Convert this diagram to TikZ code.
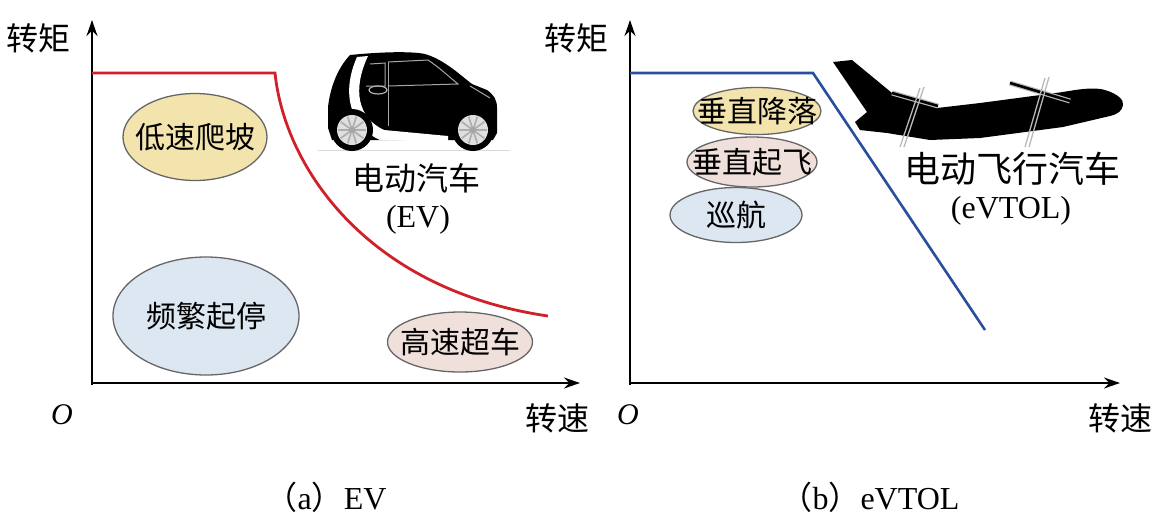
\documentclass[tikz,border=0pt]{standalone}
\usepackage{fontspec}
\setmainfont{Liberation Serif}
\newfontfamily\cjk{Noto Sans CJK SC}
\usetikzlibrary{arrows.meta,shapes.geometric}
\definecolor{evred}{HTML}{D0202A}
\definecolor{evblue}{HTML}{2B4DA0}
\definecolor{fillyel}{HTML}{F3E4AE}
\definecolor{fillpink}{HTML}{F0E0DC}
\definecolor{fillblue}{HTML}{DCE7F1}
\tikzset{
  axis/.style={line width=1.9pt,-{Stealth[length=16pt,width=11pt]}},
  oval/.style={ellipse,draw=black!60,line width=1.3pt,inner xsep=-18pt,inner ysep=0pt,font=\cjk\fontsize{30}{32}\selectfont},
  cjklab/.style={font=\cjk\fontsize{#1}{#1}\selectfont,inner sep=0pt},
  latlab/.style={font=\fontsize{#1}{#1}\selectfont,inner sep=0pt},
  prop/.style={draw=gray!55,line width=1.3pt},
  wingbar/.style={draw=gray!55,line width=5pt},
  wingcore/.style={draw=black,line width=2.6pt},
}
\begin{document}
\begin{tikzpicture}[x=1pt,y=-1pt]
\useasboundingbox (0,0) rectangle (1170,523);
% ---------------- panel (a) ----------------
\coordinate (oa) at (92,383);
\coordinate (ya) at (92,20);
\coordinate (xa) at (580,383);
\draw[axis] (92,385) -- (ya);
\draw[axis] (oa) -- (xa);
\node[cjklab=32] (tqa) at (38,38) {转矩};
\node[cjklab=32] (spa) at (557,418) {转速};
\node[font=\itshape\fontsize{30}{30}\selectfont,inner sep=0pt] (Oa) at (62,415) {O};
\coordinate (ra0) at (92,73);
\coordinate (ra1) at (275,73);
\coordinate (ra2) at (548,316);
\draw[evred,line width=2.8pt] (ra0) -- (ra1) .. controls (285,170) and (370,290) .. (ra2);
\node[oval,fill=fillyel,minimum width=144pt,minimum height=87pt] (e1) at (195,137) {低速爬坡};
\node[oval,fill=fillblue,minimum width=186pt,minimum height=118pt] (e2) at (206,316) {频繁起停};
\node[oval,fill=fillpink,minimum width=145pt,minimum height=60pt] (e3) at (460,342) {高速超车};
\node[cjklab=32] (eva) at (416,178) {电动汽车};
\node[latlab=32] (evb) at (418,220) {(EV)};
\node[latlab=32] (capa) at (326,497) {{\cjk （}a{\cjk ）}EV};
% car
\draw[gray!30,line width=1pt] (318,150) -- (510,150);
\fill[black] (350,55) .. controls (380,52) and (410,51) .. (425,54)
  .. controls (445,60) and (460,75) .. (472,84) -- (487,90)
  .. controls (494,95) and (497,100) .. (497,108) -- (497,133) -- (493,140)
  -- (332,140) -- (328,128) -- (328,107) .. controls (330,90) and (336,70) .. cycle;
\fill[white] (357,57) -- (368,56) .. controls (352,90) and (358,118) .. (384,130)
  -- (448,136) -- (448,142) -- (380,140) .. controls (352,128) and (340,95) .. cycle;
\draw[gray!70,line width=1pt] (388,62) -- (388,126);
\draw[gray!70,line width=1pt] (388,62) -- (428,60) .. controls (440,68) and (448,76) .. (458,84) -- (388,86);
\draw[gray!70,line width=1pt] (370,64) -- (385,63) -- (385,86) -- (366,86);
\draw[gray!60,line width=1.2pt] (378,90) ellipse (9pt and 4pt);
\draw[gray!70,line width=1pt] (470,86) -- (490,98);
\foreach \cx in {352,473}{
  \fill[black] (\cx,130) circle (21pt);
  \fill[gray!25] (\cx,130) circle (15pt);
  \foreach \a in {0,36,...,324}{\draw[gray!65,line width=1.6pt] (\cx,130) -- ++(\a:14pt);}
  \fill[gray!70] (\cx,130) circle (3pt);
}
% ---------------- panel (b) ----------------
\coordinate (ob) at (630,383);
\coordinate (yb) at (630,20);
\coordinate (xb) at (1120,383);
\draw[axis] (630,385) -- (yb);
\draw[axis] (ob) -- (xb);
\node[cjklab=32] (tqb) at (576,38) {转矩};
\node[cjklab=32] (spb) at (1120,418) {转速};
\node[font=\itshape\fontsize{30}{30}\selectfont,inner sep=0pt] (Ob) at (628,415) {O};
\coordinate (rb0) at (630,73);
\coordinate (rb1) at (813,73);
\coordinate (rb2) at (985,330);
\draw[evblue,line width=2.6pt] (rb0) -- (rb1) -- (rb2);
\node[oval,fill=fillyel,minimum width=128pt,minimum height=47pt] (f1) at (757,111) {垂直降落};
\node[oval,fill=fillpink,minimum width=130pt,minimum height=50pt] (f2) at (752,162) {垂直起飞};
\node[oval,fill=fillblue,minimum width=132pt,minimum height=55pt] (f3) at (736,215) {巡航};
\node[cjklab=36] (fva) at (1012,169) {电动飞行汽车};
\node[latlab=32] (fvb) at (1011,211) {(eVTOL)};
\node[latlab=32] (capb) at (870,497) {{\cjk （}b{\cjk ）}eVTOL};
% plane
\fill[black] (833,62) -- (852,60) -- (892,93) -- (937,108) -- (980,103) -- (1063,92)
  .. controls (1080,89) and (1095,87) .. (1105,90)
  .. controls (1118,94) and (1124,100) .. (1123,105)
  .. controls (1122,111) and (1118,114) .. (1110,116)
  -- (1063,127) -- (980,138) -- (930,140) -- (887,133) -- (860,130)
  -- (855,122) -- (867,112) -- cycle;
\draw[wingbar] (892,93) -- (938,106);
\draw[wingcore] (892,93) -- (938,106);
\draw[wingbar] (1010,83) -- (1070,101);
\draw[wingcore] (1010,83) -- (1070,101);
\draw[prop] (924,87) -- (904,147);
\draw[prop] (920,88) -- (900,147);
\draw[prop] (1049,77) -- (1029,147);
\draw[prop] (1045,78) -- (1025,147);
\end{tikzpicture}
\end{document}
